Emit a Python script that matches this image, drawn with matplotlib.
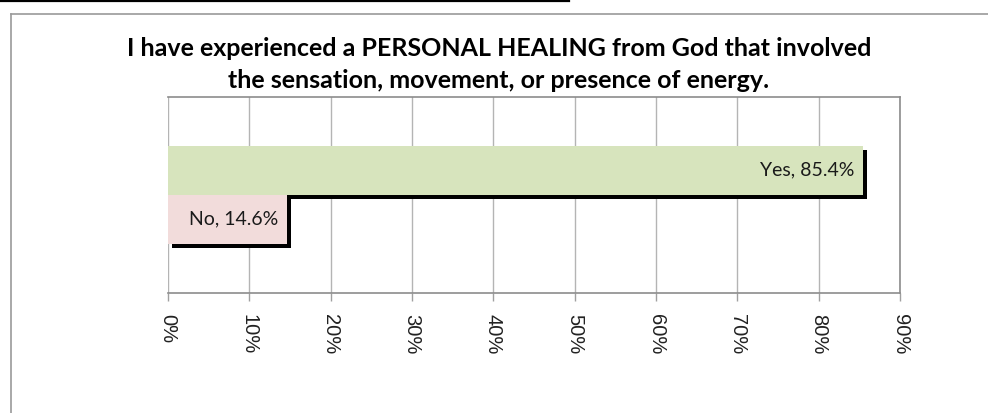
import matplotlib.pyplot as plt
import matplotlib.patheffects as pe
from matplotlib.lines import Line2D

# chart data
answers = ['Yes', 'No']
shares = [85.4, 14.6]
bar_colors = ['#D7E4BD', '#F2DCDB']
ticks = list(range(0, 100, 10))
tick_labels = [str(t) + '%' for t in ticks]
title_lines = ['I have experienced a PERSONAL HEALING from God that involved',
               'the sensation, movement, or presence of energy.']

W, H = 988, 413
fig = plt.figure(figsize=(W / 100, H / 100), dpi=100)

def px(x0, y0, x1, y1):
    # pixel box (top-left origin) -> figure fraction rect
    return [x0 / W, 1 - y1 / H, (x1 - x0) / W, (y1 - y0) / H]

# outer chart frame (only left and top edges are visible)
fig.add_artist(Line2D([11 / W, 11 / W], [0, 1 - 14 / H], color='#9a9a9a', lw=1.2))
fig.add_artist(Line2D([11 / W, 1], [1 - 14 / H, 1 - 14 / H], color='#9a9a9a', lw=1.2))
# black rule at the very top left from the page
fig.add_artist(Line2D([0, 569 / W], [1 - 1 / H, 1 - 1 / H], color='black', lw=1.6))

ax = fig.add_axes(px(168, 96.5, 900, 292.7))
ax.set_xlim(0, 90)
ax.set_ylim(-2, 2)

shadow = [pe.SimplePatchShadow(offset=(3, -3), shadow_rgbFace='black', alpha=1.0), pe.Normal()]
ypos = [0.5, -0.5]
for name, val, col, y in zip(answers, shares, bar_colors, ypos):
    b = ax.barh(y, val, height=1.0, color=col, edgecolor='none', zorder=3)
    for p in b:
        p.set_path_effects(shadow)
    ax.annotate(name + ', ' + str(val) + '%', xy=(val, y), xytext=(-6, 0),
                textcoords='offset points', ha='right', va='center',
                fontsize=14, family='Lato', color='#1a1a1a', zorder=5)

ax.set_axisbelow(True)
ax.grid(axis='x', color='#b4b4b4', lw=1)
ax.set_yticks([])
ax.set_xticks(ticks)
ax.set_xticklabels(tick_labels, rotation=270, family='Liberation Sans', fontsize=14.5, color='#222')
ax.tick_params(axis='x', direction='out', length=6, width=1, color='#a0a0a0', pad=9)
for s in ['left']:
    ax.spines[s].set_visible(False)
for s in ['top', 'right', 'bottom']:
    ax.spines[s].set_color('#8c8c8c')
    ax.spines[s].set_linewidth(1.2)

fig.text(499 / W, 1 - 56 / H, title_lines[0], ha='center', va='baseline',
         fontsize=18, fontweight='bold', family='Lato', color='black')
fig.text(499 / W, 1 - 88 / H, title_lines[1], ha='center', va='baseline',
         fontsize=18, fontweight='bold', family='Lato', color='black', zorder=10)

fig.savefig('out.png', dpi=100)
